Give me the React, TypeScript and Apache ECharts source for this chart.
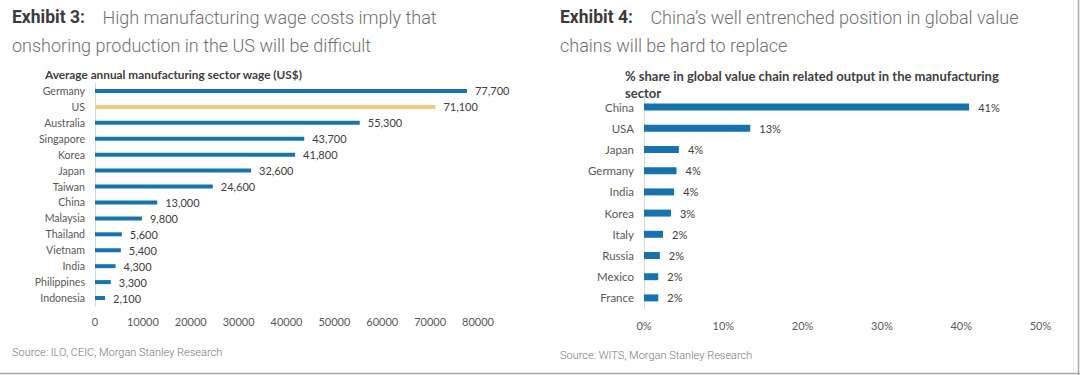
import React, { useEffect, useRef } from "react";
import * as echarts from "echarts";

const wageCountries = [
  "Germany", "US", "Australia", "Singapore", "Korea", "Japan", "Taiwan",
  "China", "Malaysia", "Thailand", "Vietnam", "India", "Philippines", "Indonesia",
];
const wageValues = [77700, 71100, 55300, 43700, 41800, 32600, 24600, 13000, 9800, 5600, 5400, 4300, 3300, 2100];
const wageTicks = [0, 10000, 20000, 30000, 40000, 50000, 60000, 70000, 80000];

const gvcCountries = ["China", "USA", "Japan", "Germany", "India", "Korea", "Italy", "Russia", "Mexico", "France"];
const gvcValues = [41.0, 13.4, 4.4, 4.1, 3.8, 3.4, 2.4, 2.0, 1.8, 1.8];
const gvcTicks = [0, 10, 20, 30, 40, 50];

const BLUE = "#1673B0";
const GOLD = "#F3CB7D";
const LABEL = "#595959";
const FONT = "Lato, 'Open Sans', sans-serif";
const FS = 11;

export default function App() {
  const ref = useRef<HTMLDivElement>(null);
  useEffect(() => {
    document.body.style.margin = "0";
    const chart = echarts.init(ref.current!, null, { renderer: "svg" });
    const headRich = {
      b: { fontFamily: "Roboto", fontWeight: "bold", fontSize: 17.5, color: "#3a3a3a", lineHeight: 28 },
      l: { fontFamily: "Roboto", fontWeight: 300, fontSize: 18, color: "#707070", lineHeight: 28 },
    };
    const catAxis = (data: string[], gridIndex: number, fs: number) => ({
      type: "category",
      gridIndex,
      data,
      inverse: true,
      axisTick: { show: false },
      axisLine: { show: true, lineStyle: { color: "#d9d9d9", width: 1 } },
      axisLabel: { color: LABEL, fontFamily: FONT, fontSize: fs, margin: 10 },
    });
    chart.setOption({
      animation: false,
      backgroundColor: "#ffffff",
      title: [
        {
          left: 12, top: 3, padding: 0,
          text: "{b|Exhibit 3:}{l|    High manufacturing wage costs imply that}\n{l|onshoring production in the US will be difficult}",
          textStyle: { rich: headRich },
        },
        {
          left: 560, top: 3, padding: 0,
          text: "{b|Exhibit 4:}{l|    China’s well entrenched position in global value}\n{l|chains will be hard to replace}",
          textStyle: { rich: headRich },
        },
        {
          left: 45, top: 68, padding: 0,
          text: "Average annual manufacturing sector wage (US$)",
          textStyle: { fontFamily: FONT, fontWeight: "bold", fontSize: 11.8, color: "#404040" },
        },
        {
          left: 625, top: 67, padding: 0,
          text: "% share in global value chain related output in the manufacturing\nsector",
          textStyle: { fontFamily: FONT, fontWeight: "bold", fontSize: 13, color: "#404040", lineHeight: 17 },
        },
        {
          left: 12, top: 347, padding: 0,
          text: "Source: ILO, CEIC, Morgan Stanley Research",
          textStyle: { fontFamily: "Roboto", fontWeight: 300, fontSize: 11, color: "#777777" },
        },
        {
          left: 560, top: 350, padding: 0,
          text: "Source: WITS, Morgan Stanley Research",
          textStyle: { fontFamily: "Roboto", fontWeight: 300, fontSize: 11, color: "#777777" },
        },
      ],
      grid: [
        { left: 95, top: 83, width: 383, height: 223, containLabel: false },
        { left: 644, top: 96.5, width: 396.5, height: 212, containLabel: false },
      ],
      xAxis: [
        {
          type: "value", gridIndex: 0, min: wageTicks[0], max: wageTicks[wageTicks.length - 1], interval: 10000,
          splitLine: { show: false }, axisLine: { show: false }, axisTick: { show: false },
          axisLabel: { color: LABEL, fontFamily: FONT, fontSize: FS, margin: 10, formatter: (v: number) => String(v) },
        },
        {
          type: "value", gridIndex: 1, min: gvcTicks[0], max: gvcTicks[gvcTicks.length - 1], interval: 10,
          splitLine: { show: false }, axisLine: { show: false }, axisTick: { show: false },
          axisLabel: { color: LABEL, fontFamily: FONT, fontSize: FS, margin: 11, formatter: "{value}%" },
        },
      ],
      yAxis: [catAxis(wageCountries, 0, 10.6), catAxis(gvcCountries, 1, 11.5)],
      series: [
        {
          type: "bar", xAxisIndex: 0, yAxisIndex: 0, barWidth: 4,
          data: wageValues.map((v, i) => ({
            value: v,
            itemStyle: { color: wageCountries[i] === "US" ? GOLD : BLUE },
          })),
          label: {
            show: true, position: "right", distance: 8, color: "#404040", fontFamily: FONT, fontSize: FS,
            formatter: (p: any) => Number(p.value).toLocaleString("en-US"),
          },
        },
        {
          type: "bar", xAxisIndex: 1, yAxisIndex: 1, barWidth: 7,
          itemStyle: { color: BLUE },
          data: gvcValues,
          label: {
            show: true, position: "right", distance: 9, color: "#404040", fontFamily: FONT, fontSize: FS,
            formatter: (p: any) => Math.round(p.value) + "%",
          },
        },
      ],
      graphic: [
        { type: "line", shape: { x1: 0, y1: 373.5, x2: 1080, y2: 373.5 }, style: { stroke: "#a8a8a8", lineWidth: 1.5 } },
        { type: "line", shape: { x1: 1078.5, y1: 0, x2: 1078.5, y2: 375 }, style: { stroke: "#a8a8a8", lineWidth: 1.5 } },
        { type: "line", shape: { x1: 1073.5, y1: 0, x2: 1073.5, y2: 373 }, style: { stroke: "#eeeeee", lineWidth: 1 } },
      ],
    });
    return () => chart.dispose();
  }, []);
  return <div ref={ref} style={{ position: "absolute", left: 0, top: 0, width: 1080, height: 375 }} />;
}
